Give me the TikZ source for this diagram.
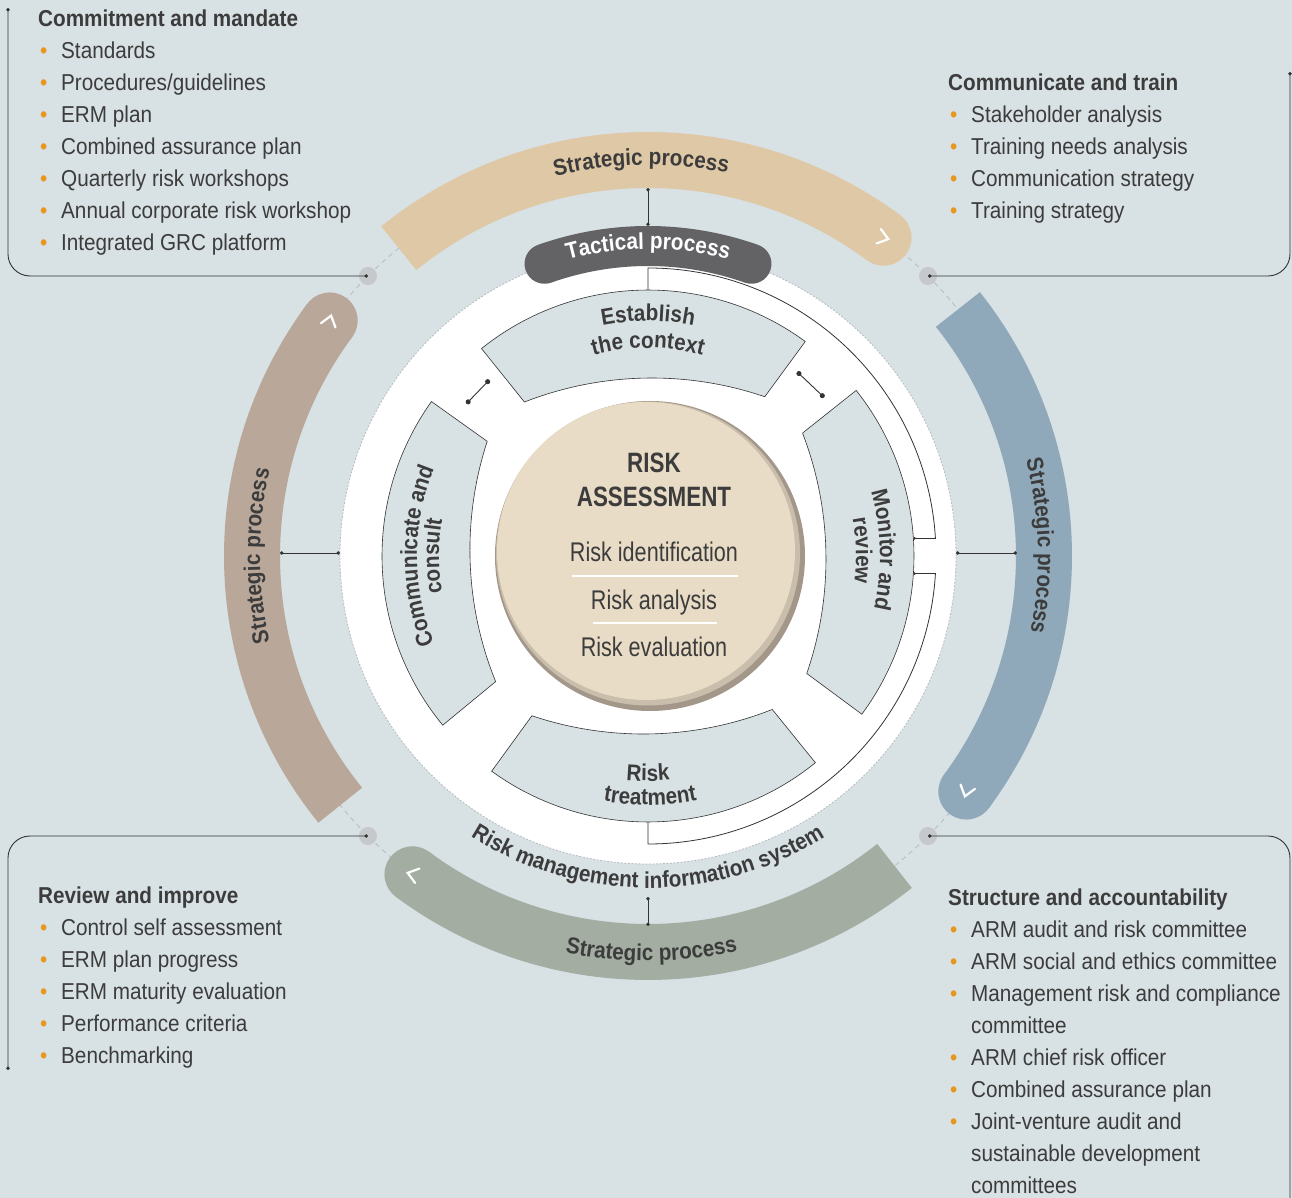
\documentclass[tikz,border=0pt]{standalone}
\usepackage{fontspec}
\setmainfont{Liberation Sans}[FakeStretch=0.9]
\newfontfamily\narrowfont{Liberation Sans}[FakeStretch=0.8]
\usetikzlibrary{arrows.meta, decorations.text, calc}

\definecolor{bgblue}{HTML}{D8E1E4}
\definecolor{tanarc}{HTML}{DFC8A6}
\definecolor{bluearc}{HTML}{8FA9BA}
\definecolor{brownarc}{HTML}{B9A89A}
\definecolor{sagearc}{HTML}{A3ADA2}
\definecolor{tactgrey}{HTML}{636366}
\definecolor{txtgrey}{HTML}{3C3C3C}
\definecolor{bulor}{HTML}{E8961E}
\definecolor{dotgrey}{HTML}{C6C9CB}
\definecolor{beige}{HTML}{E9DCC6}
\definecolor{beigedark}{HTML}{A3978A}
\definecolor{dashgrey}{HTML}{B4BCC0}
\definecolor{lineblack}{HTML}{333333}

\newcommand{\lblfont}{\fontsize{23}{26}\selectfont\bfseries}
\newcommand{\bul}{\makebox[23pt][l]{\hspace{2pt}\textcolor{bulor}{\textbullet}}}
\newcommand{\ind}{\hspace*{23pt}}
%% one process sector, bisector along +x (rotate it into place)
\newcommand{\sectorpath}{(37.5:197.5) -- (37.5:266) arc[start angle=37.5, end angle=-37.5, radius=266]
  -- (-37.5:197.5) arc[start angle=-20.08, end angle=20.08, radius=350] -- cycle}

\begin{document}
\begin{tikzpicture}[x=1pt, y=1pt,
  ring/.style={line width=56pt},
  chev/.style={draw=white, line width=2.2pt, line cap=round},
  gdot/.style={circle, fill=dotgrey, inner sep=0pt, minimum size=18pt},
  leader/.style={draw=lineblack, line width=0.9pt, rounded corners=22pt},
  tick/.style={draw=lineblack, line width=0.7pt, {Circle[length=3.5pt]}-{Circle[length=3.5pt]}},
  link/.style={draw=lineblack, line width=0.9pt, {Circle[length=5pt]}-{Circle[length=5pt]}},
  fback/.style={draw=lineblack, line width=0.8pt},
  sector/.style={fill=bgblue, draw=lineblack, line width=0.6pt},
  arclbl/.style={decorate, decoration={text along path, text align=center, text color=txtgrey}},
  listbox/.style={anchor=north west, inner sep=0pt, align=left, text=txtgrey,
                  font=\fontsize{23}{32}\selectfont},
  midtxt/.style={anchor=base, text=txtgrey, inner sep=0pt, font=\narrowfont\fontsize{27}{30}\selectfont},
  midhead/.style={anchor=base, text=txtgrey, inner sep=0pt, font=\narrowfont\bfseries\fontsize{28}{30}\selectfont}
]

%% background
\useasboundingbox (-648,-642) rectangle (644,556);
\fill[bgblue] (-648,-642) rectangle (644,556);

%% dashed guide circle of the outer ring
\draw[dashgrey, line width=0.8pt, dash pattern=on 5pt off 4pt] (0,0) circle (396);

%% strategic process ring
\draw[ring, tanarc] (129:396) arc[start angle=129, end angle=53.5, radius=396];
\fill[tanarc] (53.5:396) circle (28);
\draw[ring, bluearc] (38.5:396) arc[start angle=38.5, end angle=-36.5, radius=396];
\fill[bluearc] (-36.5:396) circle (28);
\draw[ring, sagearc] (308.5:396) arc[start angle=308.5, end angle=233.5, radius=396];
\fill[sagearc] (233.5:396) circle (28);
\draw[ring, brownarc] (219:396) arc[start angle=219, end angle=143.5, radius=396];
\fill[brownarc] (143.5:396) circle (28);

%% chevrons on the rounded ends
\draw[chev, shift={(53.5:396)}, rotate=-16.5] (-5,7.5) -- (5,0) -- (-5,-7.5);
\draw[chev, shift={(-36.5:396)}, rotate=-106.5] (-5,7.5) -- (5,0) -- (-5,-7.5);
\draw[chev, shift={(233.5:396)}, rotate=163.5] (-5,7.5) -- (5,0) -- (-5,-7.5);
\draw[chev, shift={(143.5:396)}, rotate=73.5] (-5,7.5) -- (5,0) -- (-5,-7.5);

%% grey joints and leaders to the text blocks
\node[gdot] (dTL) at (135:396) {};
\node[gdot] (dTR) at (45:396) {};
\node[gdot] (dBL) at (225:396) {};
\node[gdot] (dBR) at (315:396) {};
\coordinate (cTL) at (-640,548);
\coordinate (cTR) at (642,484);
\coordinate (cBL) at (-640,-514);
\coordinate (cBR) at (642,-642);
\draw[leader, {Circle[length=3.5pt]}-{Circle[length=3.5pt]}] (dTL.center) -| (cTL);
\draw[leader, {Circle[length=3.5pt]}-{Circle[length=3.5pt]}] (dTR.center) -| (cTR);
\draw[leader, {Circle[length=3.5pt]}-{Circle[length=3.5pt]}] (dBL.center) -| (cBL);
\draw[leader, {Circle[length=3.5pt]}-] (dBR.center) -| (cBR);

%% white disc
\fill[white] (0,0) circle (308);
\draw[dashgrey, line width=0.8pt, dash pattern=on 2pt off 1.5pt] (0,0) circle (308);

%% tactical process band
\draw[tactgrey, line width=40pt, line cap=round] (109.5:310) arc[start angle=109.5, end angle=70.5, radius=310];

%% short links ring -> disc
\coordinate (stratT) at (90:368);
\coordinate (tactT) at (90:330);
\coordinate (stratL) at (-368,3);
\coordinate (discL) at (-308,3);
\coordinate (discR) at (308,3);
\coordinate (stratR) at (369,3);
\coordinate (rmisB) at (0,-341);
\coordinate (stratB) at (0,-370);
\draw[tick] (stratT) -- (tactT);
\draw[tick] (stratL) -- (discL);
\draw[tick] (discR) -- (stratR);
\draw[tick] (rmisB) -- (stratB);

%% process sectors
\filldraw[sector, rotate=91.25] \sectorpath;
\filldraw[sector, rotate=1] \sectorpath;
\filldraw[sector, rotate=271.5] \sectorpath;
\filldraw[sector, rotate=182] \sectorpath;

%% links between sectors
\coordinate (lkA) at (132:237);
\coordinate (lkB) at (140:237);
\coordinate (lkC) at (51:237);
\coordinate (lkD) at (42:237);
\draw[link] (lkA) -- (lkB);
\draw[link] (lkC) -- (lkD);

%% monitor feedback bracket
\coordinate (estTop) at (90:266);
\coordinate (monUp) at (265.4,17.6);
\coordinate (monDn) at (265.4,-17.6);
\coordinate (treatBot) at (270:266);
\draw[fback, -{Circle[length=2.5pt]}] (estTop) -- (90:288) arc[start angle=90, end angle=3.5, radius=288] -- (monUp);
\draw[fback, {Circle[length=2.5pt]}-] (monDn) -- (-3.5:288) arc[start angle=-3.5, end angle=-90, radius=288] -- (treatBot);

%% risk assessment core
\coordinate (cc) at (2,0);
\fill[beigedark] (cc) circle (155);
\fill[beige!55!beigedark] ($(cc)+(-2,2.5)$) circle (152);
\fill[beige] ($(cc)+(-4,5)$) circle (149);
\draw[white, line width=1.2pt] (-76,-20) -- (90,-20);
\draw[white, line width=1.2pt] (-55,-67) -- (69,-67);
\node[midhead] (rsk1) at (6,83.5) {RISK};
\node[midhead] (rsk2) at (6,49.5) {ASSESSMENT};
\node[midtxt] (rid) at (6,-5.5) {Risk identification};
\node[midtxt] (ran) at (6,-53.5) {Risk analysis};
\node[midtxt] (rev) at (6,-100.5) {Risk evaluation};

%% curved labels
\path[arclbl, decoration={text={|\lblfont|Strategic process}}]
  (131:391) arc[start angle=131, end angle=51, radius=391];
\path[arclbl, decoration={text={|\lblfont|Strategic process}}]
  (41:390) arc[start angle=41, end angle=-38, radius=390];
\path[arclbl, decoration={text={|\lblfont|Strategic process}}]
  (220:388) arc[start angle=220, end angle=140, radius=388];
\path[arclbl, decoration={text={|\lblfont|Strategic process}}]
  (230:405) arc[start angle=230, end angle=311, radius=405];
\path[arclbl, decoration={text={|\lblfont|Risk management information system}}]
  (205:332) arc[start angle=205, end angle=335, radius=332];
\path[arclbl, decoration={text color=white, text={|\lblfont|Tactical process}}]
  (125:307) arc[start angle=125, end angle=55, radius=307];
\path[arclbl, decoration={text={|\lblfont|Establish}}]
  (120:235) arc[start angle=120, end angle=60, radius=235];
\path[arclbl, decoration={text={|\lblfont|the context}}]
  (120:208) arc[start angle=120, end angle=60, radius=208];
\path[arclbl, decoration={text={|\lblfont|Communicate and}}]
  (215:231) arc[start angle=215, end angle=145, radius=231];
\path[arclbl, decoration={text={|\lblfont|consult}}]
  (215:209) arc[start angle=215, end angle=145, radius=209];
\path[arclbl, decoration={text={|\lblfont|Monitor and}}]
  (35:232) arc[start angle=35, end angle=-32, radius=232];
\path[arclbl, decoration={text={|\lblfont|review}}]
  (35:208) arc[start angle=35, end angle=-32, radius=208];
\path[arclbl, decoration={text={|\lblfont|Risk}}]
  (240:225) arc[start angle=240, end angle=300, radius=225];
\path[arclbl, decoration={text={|\lblfont|treatment}}]
  (240:249) arc[start angle=240, end angle=301, radius=249];

%% text blocks
\node[listbox] (cmBox) at (-610,546) {{\bfseries Commitment and mandate}\\
  \bul Standards\\
  \bul Procedures/guidelines\\
  \bul ERM plan\\
  \bul Combined assurance plan\\
  \bul Quarterly risk workshops\\
  \bul Annual corporate risk workshop\\
  \bul Integrated GRC platform};
\node[listbox] (ctBox) at (300,482) {{\bfseries Communicate and train}\\
  \bul Stakeholder analysis\\
  \bul Training needs analysis\\
  \bul Communication strategy\\
  \bul Training strategy};
\node[listbox] (riBox) at (-610,-331) {{\bfseries Review and improve}\\
  \bul Control self assessment\\
  \bul ERM plan progress\\
  \bul ERM maturity evaluation\\
  \bul Performance criteria\\
  \bul Benchmarking};
\node[listbox] (saBox) at (300,-333) {{\bfseries Structure and accountability}\\
  \bul ARM audit and risk committee\\
  \bul ARM social and ethics committee\\
  \bul Management risk and compliance\\
  \ind committee\\
  \bul ARM chief risk officer\\
  \bul Combined assurance plan\\
  \bul Joint-venture audit and\\
  \ind sustainable development\\
  \ind committees};

\end{tikzpicture}
\end{document}
